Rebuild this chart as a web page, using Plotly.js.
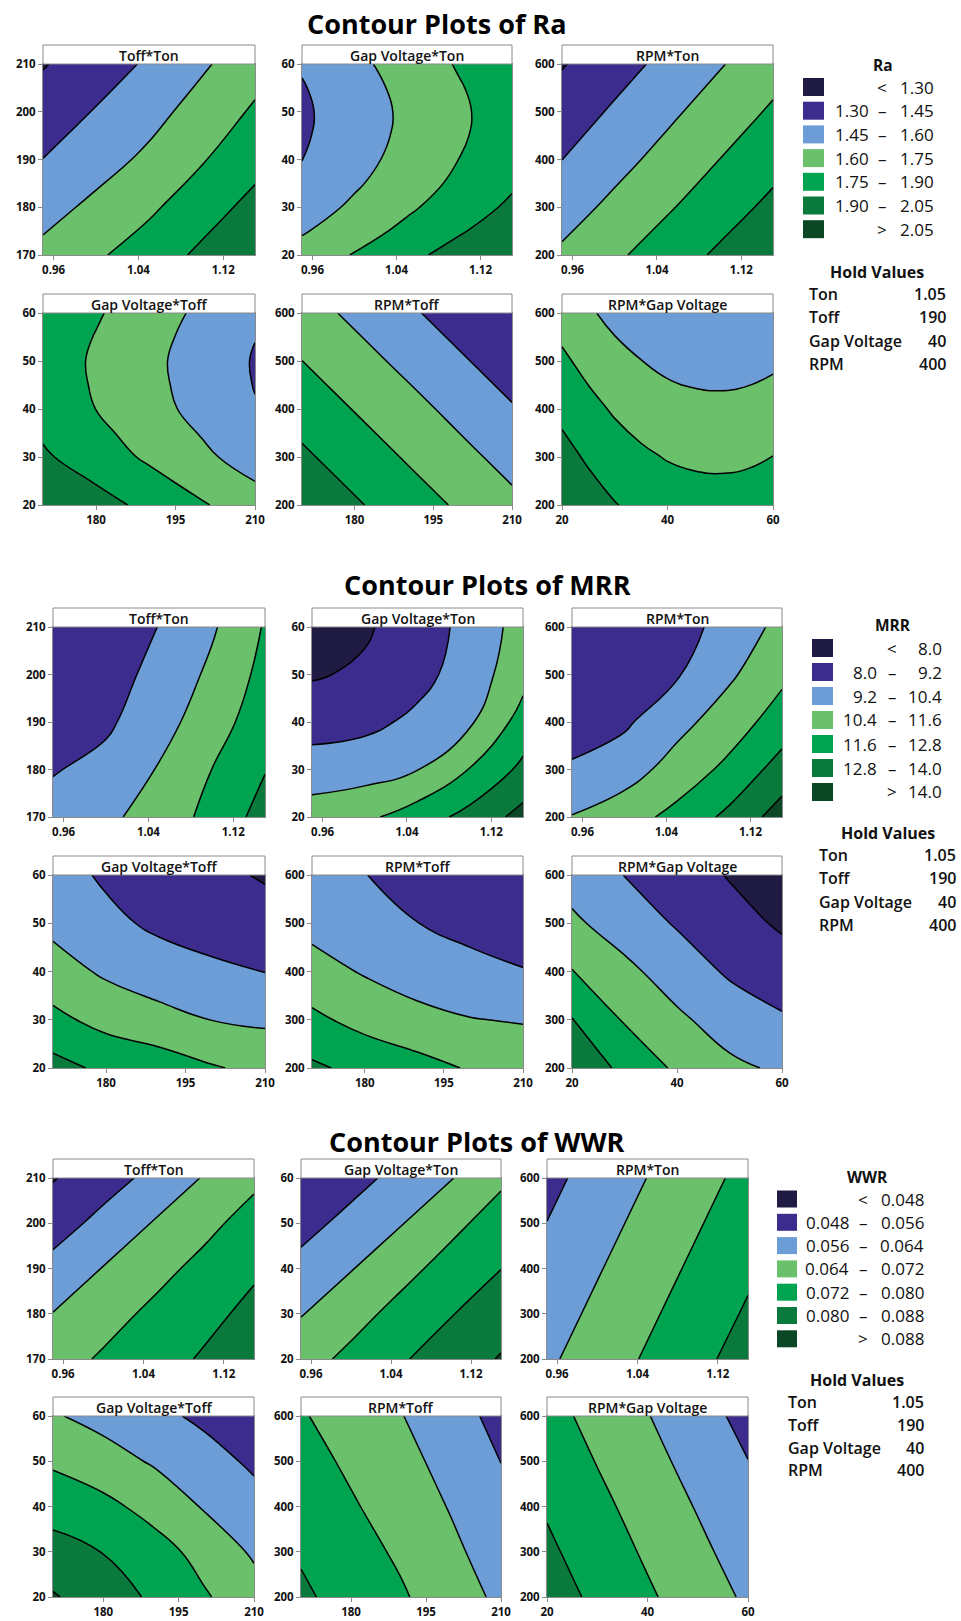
<!DOCTYPE html>
<html><head><meta charset="utf-8">
<script src="https://cdn.plot.ly/plotly-3.0.1.min.js"></script>
<style>html,body{margin:0;padding:0;background:#fff}#chart{width:961px;height:1621px}</style>
</head><body><div id="chart"></div>
<script>
// ---- factor grids (axis values at which the response was read) ----
const tonVals     = [0.95, 1.00, 1.05, 1.10, 1.15];
const toffVals    = [170, 180, 190, 200, 210];
const gapVals     = [20, 30, 40, 50, 60];
const gapValsFine = [20, 25, 30, 35, 40, 45, 50, 55, 60];
const rpmVals     = [200, 300, 400, 500, 600];

// ---- tick labels ----
const tonTicks   = [0.96, 1.04, 1.12];
const toffYTicks = [170, 180, 190, 200, 210];
const toffXTicks = [180, 195, 210];
const gapYTicks  = [20, 30, 40, 50, 60];
const gapXTicks  = [20, 40, 60];
const rpmTicks   = [200, 300, 400, 500, 600];

const panelTitles = ['Toff*Ton', 'Gap Voltage*Ton', 'RPM*Ton', 'Gap Voltage*Toff', 'RPM*Toff', 'RPM*Gap Voltage'];

// ---- hold values ----
const holdNames  = ['Ton', 'Toff', 'Gap Voltage', 'RPM'];
const holdValues = ['1.05', '190', '40', '400'];

// ---- contour levels ----
const raLevels  = [1.30, 1.45, 1.60, 1.75, 1.90, 2.05];
const mrrLevels = [8.0, 9.2, 10.4, 11.6, 12.8, 14.0];
const wwrLevels = [0.048, 0.056, 0.064, 0.072, 0.080, 0.088];

// ---- Ra surfaces (rows = y values ascending, cols = x values ascending) ----
const raToffTon = [
  [1.640, 1.730, 1.820, 1.930, 2.040],
  [1.545, 1.634, 1.725, 1.834, 1.945],
  [1.452, 1.539, 1.630, 1.739, 1.850],
  [1.370, 1.459, 1.550, 1.659, 1.770],
  [1.290, 1.379, 1.470, 1.579, 1.690]];
const raGapTon = [   // rows: gapValsFine
  [1.659, 1.759, 1.859, 1.959, 2.045],
  [1.586, 1.686, 1.786, 1.886, 1.986],
  [1.526, 1.626, 1.726, 1.826, 1.926],
  [1.481, 1.581, 1.681, 1.781, 1.881],
  [1.448, 1.550, 1.650, 1.752, 1.850],
  [1.432, 1.532, 1.632, 1.732, 1.832],
  [1.427, 1.527, 1.627, 1.727, 1.827],
  [1.440, 1.540, 1.640, 1.740, 1.840],
  [1.464, 1.564, 1.664, 1.764, 1.864]];
const raRpmTon = [
  [1.625, 1.725, 1.825, 1.925, 2.025],
  [1.535, 1.635, 1.735, 1.835, 1.935],
  [1.449, 1.550, 1.650, 1.752, 1.850],
  [1.370, 1.470, 1.570, 1.670, 1.770],
  [1.290, 1.390, 1.490, 1.590, 1.690]];
const raGapToff = [  // rows: gapValsFine
  [2.045, 1.958, 1.861, 1.764, 1.667],
  [1.987, 1.890, 1.793, 1.696, 1.599],
  [1.921, 1.824, 1.727, 1.630, 1.533],
  [1.882, 1.785, 1.688, 1.591, 1.494],
  [1.846, 1.749, 1.652, 1.555, 1.458],
  [1.833, 1.736, 1.639, 1.542, 1.445],
  [1.828, 1.731, 1.634, 1.537, 1.440],
  [1.841, 1.744, 1.647, 1.550, 1.453],
  [1.862, 1.765, 1.668, 1.571, 1.474]];
const raRpmToff = [
  [2.012, 1.918, 1.824, 1.730, 1.636],
  [1.925, 1.831, 1.737, 1.643, 1.549],
  [1.838, 1.744, 1.652, 1.556, 1.462],
  [1.751, 1.657, 1.563, 1.469, 1.375],
  [1.664, 1.570, 1.476, 1.382, 1.310]];
const raRpmGap = [   // cols: gapValsFine
  [2.037, 1.967, 1.907, 1.862, 1.829, 1.812, 1.807, 1.815, 1.837],
  [1.950, 1.880, 1.820, 1.775, 1.742, 1.725, 1.720, 1.728, 1.752],
  [1.863, 1.793, 1.733, 1.688, 1.655, 1.638, 1.633, 1.641, 1.663],
  [1.776, 1.706, 1.646, 1.602, 1.568, 1.551, 1.546, 1.554, 1.576],
  [1.689, 1.619, 1.559, 1.514, 1.481, 1.464, 1.459, 1.467, 1.489]];

// ---- MRR surfaces ----
const mrrToffTon = [
  [9.66, 10.15, 10.92, 11.96, 13.27],
  [9.12, 9.55, 10.48, 11.61, 12.75],
  [8.75, 9.00, 9.95, 11.05, 12.30],
  [8.52, 8.78, 9.50, 10.65, 11.95],
  [8.41, 8.60, 9.22, 10.25, 11.70]];
const mrrGapTon = [
  [11.00, 11.35, 12.20, 13.20, 14.40],
  [9.72, 9.90, 10.37, 11.66, 13.08],
  [8.72, 8.90, 9.45, 10.25, 12.08],
  [7.89, 8.18, 8.83, 9.75, 11.21],
  [7.25, 7.85, 8.63, 9.55, 10.91]];
const mrrRpmTon = [
  [10.45, 11.10, 11.95, 13.10, 14.55],
  [9.35, 9.85, 10.90, 11.90, 13.30],
  [8.65, 9.02, 10.02, 11.02, 12.15],
  [8.30, 8.60, 9.10, 10.22, 11.35],
  [8.10, 8.35, 8.75, 9.62, 10.75]];
const mrrGapToff = [
  [13.20, 12.55, 12.20, 11.70, 11.30],
  [11.90, 11.22, 10.82, 10.38, 10.20],
  [10.90, 10.22, 9.70, 9.42, 9.18],
  [10.10, 9.45, 9.00, 8.70, 8.42],
  [9.62, 9.05, 8.62, 8.25, 7.90]];
const mrrRpmToff = [
  [13.00, 12.45, 12.02, 11.50, 11.38],
  [11.85, 11.22, 10.75, 10.45, 10.30],
  [10.85, 10.30, 9.85, 9.50, 9.25],
  [10.05, 9.62, 9.21, 8.90, 8.65],
  [9.55, 9.22, 8.85, 8.55, 8.25]];
const mrrRpmGap = [
  [13.90, 12.45, 11.42, 10.65, 10.22],
  [12.85, 11.50, 10.62, 9.85, 9.35],
  [11.65, 10.70, 9.82, 9.05, 8.50],
  [10.62, 9.82, 9.10, 8.42, 7.85],
  [9.90, 9.18, 8.55, 7.93, 7.45]];

// ---- WWR surfaces ----
const wwrToffTon = [
  [0.0686, 0.0730, 0.0769, 0.0808, 0.0844],
  [0.0642, 0.0690, 0.0736, 0.0779, 0.0819],
  [0.0585, 0.0643, 0.0694, 0.0742, 0.0789],
  [0.0525, 0.0583, 0.0644, 0.0698, 0.0751],
  [0.0475, 0.0526, 0.0581, 0.0645, 0.0703]];
const wwrGapTon = [
  [0.0688, 0.0739, 0.0791, 0.0843, 0.0885],
  [0.0636, 0.0691, 0.0745, 0.0796, 0.0848],
  [0.0585, 0.0636, 0.0695, 0.0749, 0.0799],
  [0.0532, 0.0584, 0.0636, 0.0700, 0.0755],
  [0.0482, 0.0532, 0.0584, 0.0636, 0.0706]];
const wwrRpmTon = [
  [0.0627, 0.0678, 0.0729, 0.0781, 0.0831],
  [0.0605, 0.0656, 0.0707, 0.0758, 0.0809],
  [0.0583, 0.0634, 0.0685, 0.0736, 0.0787],
  [0.0561, 0.0612, 0.0663, 0.0714, 0.0765],
  [0.0539, 0.0590, 0.0641, 0.0692, 0.0743]];
const wwrGapToff = [
  [0.0887, 0.0839, 0.0788, 0.0729, 0.0672],
  [0.0830, 0.0798, 0.0752, 0.0694, 0.0629],
  [0.0768, 0.0741, 0.0693, 0.0634, 0.0587],
  [0.0708, 0.0672, 0.0632, 0.0590, 0.0547],
  [0.0647, 0.0615, 0.0580, 0.0545, 0.0510]];
const wwrRpmToff = [
  [0.0813, 0.0771, 0.0729, 0.0678, 0.0624],
  [0.0792, 0.0750, 0.0708, 0.0656, 0.0602],
  [0.0770, 0.0728, 0.0686, 0.0635, 0.0581],
  [0.0749, 0.0707, 0.0665, 0.0613, 0.0559],
  [0.0727, 0.0685, 0.0643, 0.0591, 0.0537]];
const wwrRpmGap = [
  [0.0836, 0.0784, 0.0731, 0.0679, 0.0628],
  [0.0814, 0.0762, 0.0709, 0.0657, 0.0605],
  [0.0792, 0.0740, 0.0687, 0.0635, 0.0583],
  [0.0770, 0.0717, 0.0665, 0.0612, 0.0561],
  [0.0748, 0.0695, 0.0643, 0.0590, 0.0537]];

// ---- styling ----
const palette = ['#1f1b42', '#3c2c8d', '#6c9dd7', '#6ac06b', '#00a34f', '#0a7a3c', '#0b4725'];
const colorscale = palette.map((c, i) => [i / (palette.length - 1), c]);
const FONT = '"Open Sans", "Noto Sans", sans-serif';
const W = 961, H = 1621;

const varVals = {ton: tonVals, toff: toffVals, gap: gapVals, gapF: gapValsFine, rpm: rpmVals};
const ranges  = {ton: [0.95, 1.15], toff: [170, 210], gap: [20, 60], gapF: [20, 60], rpm: [200, 600]};
const xTicks  = {ton: tonTicks, toff: toffXTicks, gap: gapXTicks, gapF: gapXTicks};
const yTicks  = {toff: toffYTicks, gap: gapYTicks, gapF: gapYTicks, rpm: rpmTicks};
const stdVars = [['ton','toff'], ['ton','gap'], ['ton','rpm'], ['toff','gap'], ['toff','rpm'], ['gap','rpm']];
const raVars  = [['ton','toff'], ['ton','gapF'], ['ton','rpm'], ['toff','gapF'], ['toff','rpm'], ['gapF','rpm']];

const groups = [
  {name: 'Ra', dec: 2, levels: raLevels, vars: raVars,
   grids: [raToffTon, raGapTon, raRpmTon, raGapToff, raRpmToff, raRpmGap],
   cols: [[43,255],[302,512],[562,773]], rows: [[64,255],[313,505]], strip: 19,
   title: {x: 437, y: 23},
   leg: {tx: 883, ty: 65, sx: [803,824], y0: 87, dy: 23.7, sh: 18, lo: 870, mid: 882, hi: 935},
   hold: {tx: 877, ty: 272, y0: 294, dy: 23.3, left: 808, right: 947}},
  {name: 'MRR', dec: 1, levels: mrrLevels, vars: stdVars,
   grids: [mrrToffTon, mrrGapTon, mrrRpmTon, mrrGapToff, mrrRpmToff, mrrRpmGap],
   cols: [[53,265],[312,523],[572,782]], rows: [[627,817],[875,1068]], strip: 19,
   title: {x: 487, y: 584},
   leg: {tx: 893, ty: 625, sx: [812,833], y0: 648, dy: 24, sh: 18, lo: 878, mid: 892, hi: 943},
   hold: {tx: 888, ty: 833, y0: 855, dy: 23.3, left: 818, right: 957}},
  {name: 'WWR', dec: 3, levels: wwrLevels, vars: stdVars,
   grids: [wwrToffTon, wwrGapTon, wwrRpmTon, wwrGapToff, wwrRpmToff, wwrRpmGap],
   cols: [[53,254],[301,501],[547,748]], rows: [[1178,1359],[1416,1597]], strip: 19,
   title: {x: 477, y: 1141},
   leg: {tx: 867, ty: 1177, sx: [777,797], y0: 1199, dy: 23.3, sh: 17, lo: 850, mid: 863, hi: 925},
   hold: {tx: 857, ty: 1380, y0: 1402, dy: 22.8, left: 787, right: 925}}
];

const px = v => v / W, py = v => 1 - v / H;
const axisBase = {
  showgrid: false, zeroline: false, showline: true, mirror: true,
  linecolor: '#8a8a8a', linewidth: 1, ticks: 'outside', ticklen: 4, tickcolor: '#8a8a8a',
  tickfont: {family: FONT, size: 11.5, color: '#111', weight: 700}, fixedrange: true
};

const data = [];
const layout = {width: W, height: H, margin: {l:0, r:0, t:0, b:0}, autosize: false,
  paper_bgcolor: '#fff', plot_bgcolor: '#fff', showlegend: false, hovermode: false,
  shapes: [], annotations: []};

function ann(x, y, text, opts) {
  layout.annotations.push(Object.assign({xref: 'paper', yref: 'paper', x: px(x), y: py(y), text: text,
    showarrow: false, xanchor: 'center', yanchor: 'middle', borderpad: 0}, opts));
}

let n = 0;
groups.forEach(g => {
  const L = g.levels;
  const size = (L[L.length - 1] - L[0]) / (L.length - 1);
  g.grids.forEach((z, k) => {
    n++;
    const [xv, yv] = g.vars[k];
    const col = g.cols[k % 3], row = g.rows[Math.floor(k / 3)];
    const sfx = n === 1 ? '' : String(n);
    data.push({type: 'contour', x: varVals[xv], y: varVals[yv], z: z,
      xaxis: 'x' + sfx, yaxis: 'y' + sfx, autocontour: false,
      contours: {start: L[0], end: L[L.length - 1], size: size, coloring: 'fill', showlines: true},
      colorscale: colorscale, showscale: false,
      line: {color: '#000', width: 1.5, smoothing: 1.3}, hoverinfo: 'skip'});
    layout['xaxis' + sfx] = Object.assign({}, axisBase, {domain: [px(col[0]), px(col[1])], anchor: 'y' + sfx,
      range: ranges[xv], tickmode: 'array', tickvals: xTicks[xv],
      ticktext: xTicks[xv].map(v => xv === 'ton' ? v.toFixed(2) : String(v))});
    layout['yaxis' + sfx] = Object.assign({}, axisBase, {domain: [py(row[1]), py(row[0])], anchor: 'x' + sfx,
      range: ranges[yv], tickmode: 'array', tickvals: yTicks[yv], ticktext: yTicks[yv].map(String)});
    layout.shapes.push({type: 'rect', xref: 'paper', yref: 'paper', x0: px(col[0]), x1: px(col[1]),
      y0: py(row[0]), y1: py(row[0] - g.strip), line: {color: '#8a8a8a', width: 1}, fillcolor: '#fff'});
    ann((col[0] + col[1]) / 2, row[0] - g.strip / 2 + 0.5, panelTitles[k],
      {font: {family: FONT, size: 14, color: '#111', weight: 600}});
  });

  // group title
  ann(g.title.x, g.title.y, 'Contour Plots of ' + g.name, {font: {family: FONT, size: 27, color: '#000', weight: 700}});

  // legend
  const lg = g.leg;
  ann(lg.tx, lg.ty, g.name, {font: {family: FONT, size: 15.5, color: '#111', weight: 700}});
  const legFont = {family: FONT, size: 17, color: '#111'};
  for (let i = 0; i < palette.length; i++) {
    const yc = lg.y0 + i * lg.dy;
    layout.shapes.push({type: 'rect', xref: 'paper', yref: 'paper', x0: px(lg.sx[0]), x1: px(lg.sx[1]),
      y0: py(yc + lg.sh / 2), y1: py(yc - lg.sh / 2), line: {width: 0}, fillcolor: palette[i]});
    let lo = '', mid = '–', hi = '';
    if (i === 0) { mid = '<'; hi = L[0].toFixed(g.dec); }
    else if (i === palette.length - 1) { mid = '>'; hi = L[L.length - 1].toFixed(g.dec); }
    else { lo = L[i - 1].toFixed(g.dec); hi = L[i].toFixed(g.dec); }
    if (lo) ann(lg.lo, yc, lo, {xanchor: 'right', font: legFont});
    ann(lg.mid, yc, mid, {font: legFont});
    ann(lg.hi, yc, hi, {xanchor: 'right', font: legFont});
  }

  // hold values
  const h = g.hold;
  const holdFont = {family: FONT, size: 16, color: '#111', weight: 600};
  ann(h.tx, h.ty, 'Hold Values', {font: {family: FONT, size: 16, color: '#111', weight: 700}});
  holdNames.forEach((nm, i) => {
    const yc = h.y0 + i * h.dy;
    ann(h.left, yc, nm, {xanchor: 'left', font: holdFont});
    ann(h.right, yc, holdValues[i], {xanchor: 'right', font: holdFont});
  });
});

Plotly.newPlot('chart', data, layout, {staticPlot: true, displayModeBar: false});
</script>
</body></html>
